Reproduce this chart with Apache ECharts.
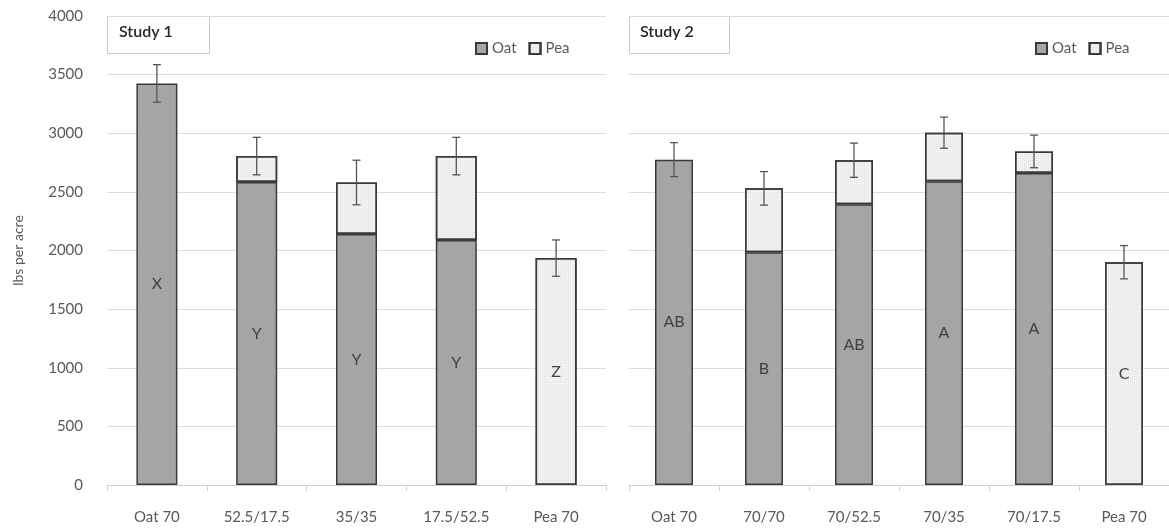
<!DOCTYPE html>
<html><head><meta charset="utf-8">
<script src="https://cdn.jsdelivr.net/npm/echarts@6/dist/echarts.min.js"></script>
<style>html,body{margin:0;padding:0;background:#fff}#c{width:1169px;height:531px}</style>
</head><body><div id="c"></div>
<script>
// ---- data ----
const cats1 = ['Oat 70', '52.5/17.5', '35/35', '17.5/52.5', 'Pea 70'];
const oat1 = [3425, 2585, 2140, 2090, null];
const pea1 = [null, 220, 440, 715, 1935];
const err1 = [160, 160, 190, 160, 155];
const letters1 = ['X', 'Y', 'Y', 'Y', 'Z'];

const cats2 = ['Oat 70', '70/70', '70/52.5', '70/35', '70/17.5', 'Pea 70'];
const oat2 = [2775, 1985, 2395, 2590, 2660, null];
const pea2 = [null, 545, 375, 415, 185, 1900];
const err2 = [145, 143, 146, 133, 139, 142];
const letters2 = ['AB', 'B', 'AB', 'A', 'A', 'C'];

const yTicks = [0, 500, 1000, 1500, 2000, 2500, 3000, 3500, 4000];

// ---- chart ----
const FONT = 'Lato';
const TXT = '#595959';
const OAT_FILL = '#a5a5a5';
const PEA_FILL = '#f3f3f3';
const EDGE = '#3a3a3a';

function totals(a, b) { return a.map((v, i) => (v || 0) + (b[i] || 0)); }
function errData(a, b, e) { const t = totals(a, b); return t.map((v, i) => [i, v, e[i]]); }

function errRender(params, api) {
  const x = api.value(0), y = api.value(1), e = api.value(2);
  const hi = api.coord([x, y + e]);
  const lo = api.coord([x, y - e]);
  const w = 4;
  const st = { stroke: '#555', lineWidth: 1.3 };
  return { type: 'group', children: [
    { type: 'line', shape: { x1: hi[0], y1: hi[1], x2: lo[0], y2: lo[1] }, style: st },
    { type: 'line', shape: { x1: hi[0] - w, y1: hi[1], x2: hi[0] + w, y2: hi[1] }, style: st },
    { type: 'line', shape: { x1: lo[0] - w, y1: lo[1], x2: lo[0] + w, y2: lo[1] }, style: st }
  ]};
}

const peaDecal = { symbol: 'rect', symbolSize: 1, color: 'rgba(0,0,0,0.07)', dashArrayX: [1, 1], dashArrayY: [1, 1], rotation: 0 };

function barSeries(name, data, other, letters, gi, isOat, bw) {
  return {
    name: name, type: 'bar', stack: 's' + gi, xAxisIndex: gi, yAxisIndex: gi,
    barWidth: bw, data: data,
    itemStyle: {
      color: isOat ? OAT_FILL : PEA_FILL, borderColor: EDGE, borderWidth: 1.5,
      decal: isOat ? null : peaDecal
    },
    label: {
      show: true, position: 'inside', color: '#404040', fontFamily: FONT, fontSize: 16,
      formatter: p => {
        const i = p.dataIndex;
        if (isOat) return data[i] != null ? letters[i] : '';
        return other[i] == null ? letters[i] : '';
      }
    },
    emphasis: { disabled: true }, animation: false
  };
}

const axisLabel = { color: TXT, fontFamily: FONT, fontSize: 15 };
function xAxis(gi, cats) {
  return {
    type: 'category', gridIndex: gi, data: cats,
    axisLine: { lineStyle: { color: '#d0d0d0' } },
    axisTick: { show: true, length: 6, lineStyle: { color: '#d0d0d0' } },
    axisLabel: Object.assign({ margin: 25, interval: 0 }, axisLabel)
  };
}
function yAxis(gi, showLabels) {
  return {
    type: 'value', gridIndex: gi, min: yTicks[0], max: yTicks[yTicks.length - 1],
    interval: yTicks[1] - yTicks[0],
    name: showLabels ? 'lbs per acre' : '', nameLocation: 'middle', nameGap: 82,
    nameTextStyle: { color: TXT, fontFamily: FONT, fontSize: 14 },
    axisLine: { show: false }, axisTick: { show: false },
    axisLabel: Object.assign({ show: showLabels, margin: 24, formatter: v => String(v) }, axisLabel),
    splitLine: { lineStyle: { color: '#dcdcdc', width: 1.2 } }
  };
}

const legendCommon = {
  data: ['Oat', 'Pea'], icon: 'rect', itemWidth: 11, itemHeight: 11, itemGap: 12,
  textStyle: { color: TXT, fontFamily: FONT, fontSize: 15 }, selectedMode: false
};

const chart = echarts.init(document.getElementById('c'), null, { renderer: 'canvas' });
chart.setOption({
  backgroundColor: '#fff',
  animation: false,
  grid: [
    { left: 107, right: 563, top: 16, bottom: 46 },
    { left: 629, right: 0, top: 16, bottom: 46 }
  ],
  xAxis: [xAxis(0, cats1), xAxis(1, cats2)],
  yAxis: [yAxis(0, true), yAxis(1, false)],
  legend: [
    Object.assign({ left: 470, top: 36 }, legendCommon),
    Object.assign({ left: 1030, top: 36 }, legendCommon)
  ],
  graphic: [
    { type: 'rect', left: 107, top: 16, shape: { width: 102, height: 37 },
      style: { fill: '#fff', stroke: '#c8c8c8', lineWidth: 1 } },
    { type: 'text', left: 119, top: 24, style: { text: 'Study 1', fill: '#262626', font: '600 16px Lato' } },
    { type: 'rect', left: 629, top: 16, shape: { width: 100, height: 37 },
      style: { fill: '#fff', stroke: '#c8c8c8', lineWidth: 1 } },
    { type: 'text', left: 640, top: 24, style: { text: 'Study 2', fill: '#262626', font: '600 16px Lato' } }
  ],
  series: [
    barSeries('Oat', oat1, pea1, letters1, 0, true, 41),
    barSeries('Pea', pea1, oat1, letters1, 0, false, 41),
    barSeries('Oat', oat2, pea2, letters2, 1, true, 38),
    barSeries('Pea', pea2, oat2, letters2, 1, false, 38),
    { type: 'custom', xAxisIndex: 0, yAxisIndex: 0, renderItem: errRender, data: errData(oat1, pea1, err1), z: 10, silent: true },
    { type: 'custom', xAxisIndex: 1, yAxisIndex: 1, renderItem: errRender, data: errData(oat2, pea2, err2), z: 10, silent: true }
  ]
});
</script>
</body></html>
